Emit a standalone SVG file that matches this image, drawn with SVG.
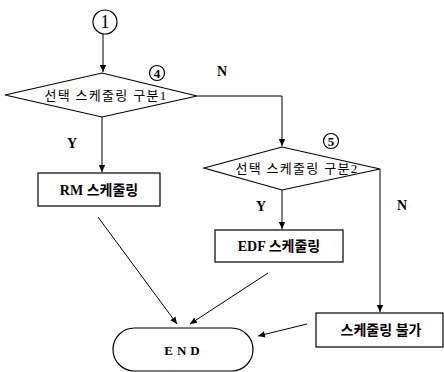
<svg xmlns="http://www.w3.org/2000/svg" width="444" height="372" viewBox="0 0 444 372">
<style>
.s{fill:#fff;stroke:#000;stroke-width:1.2}
.c{fill:none;stroke:#000;stroke-width:1}
.t{font-family:"Liberation Serif","Noto Sans CJK KR",serif;font-size:13px;letter-spacing:1.3px;text-anchor:middle;dominant-baseline:central;fill:#000}
.k{font-family:"Liberation Serif","Noto Sans CJK KR",serif;font-size:14px;font-weight:bold;text-anchor:middle;dominant-baseline:central;fill:#000}
.n{font-family:"Liberation Serif",serif;font-size:18px;text-anchor:middle;dominant-baseline:central;fill:#000}
.l{font-family:"Liberation Serif",serif;font-size:14px;font-weight:bold;text-anchor:middle;dominant-baseline:central;fill:#000}
</style>
<defs>
<marker id="a" markerWidth="8" markerHeight="8" refX="7" refY="4" orient="auto" markerUnits="userSpaceOnUse">
<path d="M0,0.8 L7,4 L0,7.2 Z" fill="#000"/>
</marker>
</defs>
<g id="start">
<circle class="s" cx="105" cy="22" r="12"/>
<text class="n" x="105" y="22">1</text>
</g>
<g id="d1">
<polygon class="s" points="5,95 102,73 197,96 102,117"/>
<text class="t" x="106" y="95">선택 스케줄링 구분1</text>
<circle class="s" cx="157" cy="73" r="7.5"/>
<text class="n" x="157" y="73" style="font-size:13px;font-weight:bold">4</text>
</g>
<g id="d2">
<polygon class="s" points="204,168 282,147 380,169 282,190"/>
<text class="t" x="297" y="168">선택 스케줄링 구분2</text>
<circle class="s" cx="331" cy="141" r="7.5"/>
<text class="n" x="331" y="141" style="font-size:13px;font-weight:bold">5</text>
</g>
<g id="rm">
<rect class="s" x="38" y="173" width="122" height="33"/>
<text class="k" x="99" y="190">RM 스케줄링</text>
</g>
<g id="edf">
<rect class="s" x="215" y="230" width="128" height="32"/>
<text class="k" x="279" y="246">EDF 스케줄링</text>
</g>
<g id="fail">
<rect class="s" x="316" y="313" width="127" height="34"/>
<text class="k" x="381" y="330">스케줄링 불가</text>
</g>
<g id="end">
<rect class="s" x="113" y="328" width="140" height="43" rx="21.5" ry="21.5"/>
<text class="l" x="184" y="350" style="letter-spacing:4px;font-size:13px">END</text>
</g>
<g id="connectors">
<line class="c" x1="103" y1="34" x2="103" y2="72" marker-end="url(#a)"/>
<polyline class="c" points="197,96 282,96 282,146" marker-end="url(#a)"/>
<line class="c" x1="102" y1="117" x2="102" y2="172" marker-end="url(#a)"/>
<line class="c" x1="282" y1="190" x2="282" y2="229" marker-end="url(#a)"/>
<line class="c" x1="380" y1="169" x2="380" y2="312" marker-end="url(#a)"/>
<line class="c" x1="98" y1="217" x2="177" y2="324" marker-end="url(#a)"/>
<line class="c" x1="268" y1="273" x2="190" y2="324" marker-end="url(#a)"/>
<line class="c" x1="307" y1="324" x2="258" y2="336" marker-end="url(#a)"/>
</g>
<g id="labels">
<text class="l" x="222" y="71">N</text>
<text class="l" x="72" y="143">Y</text>
<text class="l" x="261" y="206">Y</text>
<text class="l" x="402" y="205">N</text>
</g>
</svg>
